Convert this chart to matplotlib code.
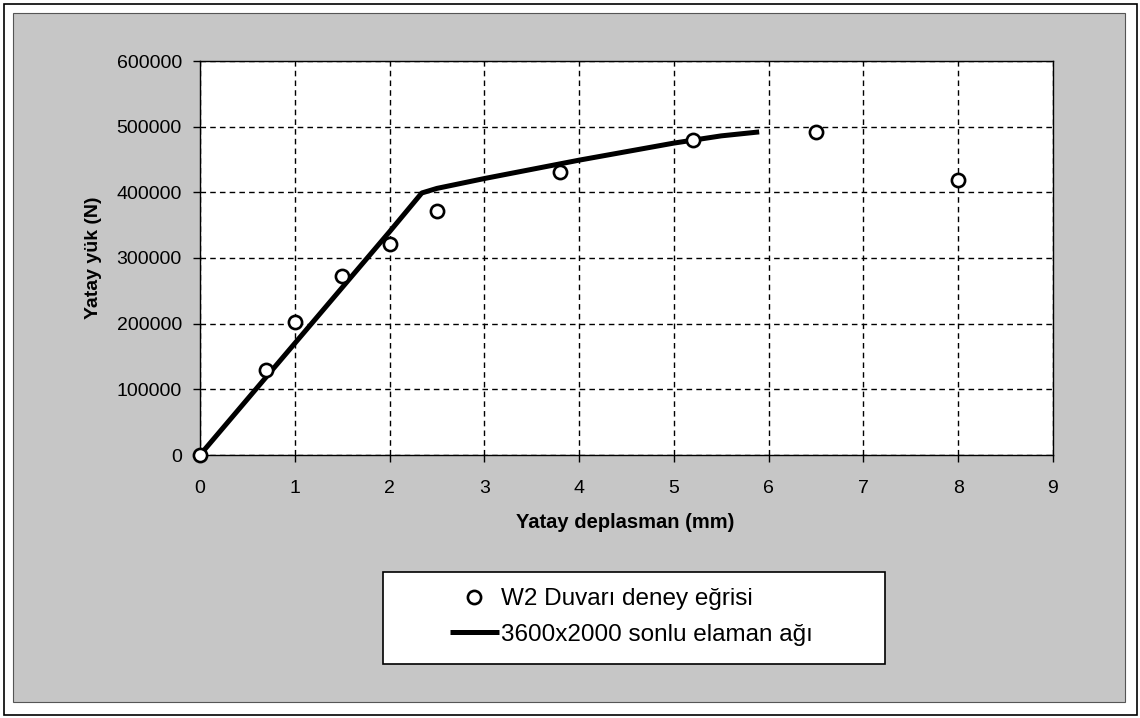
import matplotlib.pyplot as plt
from matplotlib.patches import Rectangle

# Deney noktaları (W2 duvarı)
deney_x = [0, 0.7, 1.0, 1.5, 2.0, 2.5, 3.8, 5.2, 6.5, 8.0]
deney_y = [0, 130000, 202000, 272000, 321000, 372000, 431000, 480000, 492000, 419000]

# Sonlu eleman modeli
model_x = [0, 0.5, 1.0, 1.5, 2.0, 2.34, 2.5, 3.0, 3.5, 4.0, 4.5, 5.0, 5.5, 5.9]
model_y = [0, 85000, 170000, 255000, 340000, 399000, 406000, 421000, 435000,
           449000, 462000, 475000, 486000, 492000]

x_ticks = [0, 1, 2, 3, 4, 5, 6, 7, 8, 9]
y_ticks = [0, 100000, 200000, 300000, 400000, 500000, 600000]
y_tick_labels = ['0', '100000', '200000', '300000', '400000', '500000', '600000']

plt.rcParams['font.family'] = ['Liberation Sans', 'DejaVu Sans']

W, H = 1140, 718
fig = plt.figure(figsize=(W / 100, H / 100), dpi=100, facecolor='white')

# dış çerçeve, gri grafik alanı ve lejant kutusu
fig.patches.append(Rectangle((4 / W, 3 / H), 1133 / W, 711 / H, transform=fig.transFigure,
                             facecolor='white', edgecolor='black', linewidth=1.2, zorder=-3))
fig.patches.append(Rectangle((13 / W, 16 / H), 1112 / W, 689 / H, transform=fig.transFigure,
                             facecolor='#c6c6c6', edgecolor='#555555', linewidth=0.8, zorder=-2))
fig.patches.append(Rectangle((383 / W, 1 - 664 / H), 502 / W, 92 / H, transform=fig.transFigure,
                             facecolor='white', edgecolor='black', linewidth=1.2, zorder=-1))

ax = fig.add_axes([200 / W, 1 - 455 / H, 853 / W, 394 / H])
ax.set_facecolor('white')

ax.plot(model_x, model_y, color='black', linewidth=3.6, solid_capstyle='butt',
        label='3600x2000 sonlu elaman ağı', zorder=3)
ax.plot(deney_x, deney_y, linestyle='none', marker='o', markersize=9.5,
        markerfacecolor='white', markeredgecolor='black', markeredgewidth=1.9,
        label='W2 Duvarı deney eğrisi', zorder=4, clip_on=False)

ax.set_xlim(0, 9)
ax.set_ylim(0, 600000)
ax.set_xticks(x_ticks)
ax.set_yticks(y_ticks)
ax.set_yticklabels(y_tick_labels)
ax.tick_params(direction='out', length=5, width=1, labelsize=14)
ax.tick_params(axis='x', pad=13)
ax.tick_params(axis='y', pad=8)
ax.grid(True, color='black', linestyle=(0, (4, 3)), linewidth=1.0)
for s in ax.spines.values():
    s.set_linewidth(1.0)
    s.set_color('black')

fig.text(625 / W, 1 - 523 / H, 'Yatay deplasman (mm)', ha='center', va='center',
         fontsize=14.5, fontweight='bold')
fig.text(93 / W, 1 - 258 / H, 'Yatay yük (N)', ha='center', va='center',
         rotation=90, fontsize=14, fontweight='bold')

handles, labels = ax.get_legend_handles_labels()
leg = fig.legend(handles[::-1], labels[::-1], loc='center left',
                 bbox_to_anchor=(450 / W, 1 - 617 / H), fontsize=17.5, frameon=False,
                 handlelength=2.0, handletextpad=0.1, borderpad=0,
                 labelspacing=0.55, borderaxespad=0)

plt.savefig('out.png', dpi=100, facecolor=fig.get_facecolor())
